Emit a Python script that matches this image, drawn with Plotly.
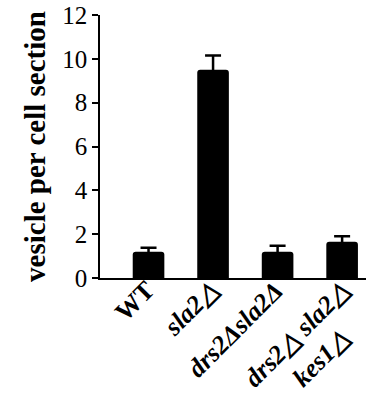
import plotly.graph_objects as go

# Strains and mean vesicle counts per cell section, with SEM
strains = ["WT", "sla2", "drs2 sla2", "drs2 sla2 kes1"]
strain_labels = [
    "<b>WT</b>",
    "<b><i>sla2△</i></b>",
    "<b><i>drs2Δsla2Δ</i></b>",
    "<b><i>drs2△ sla2△</i></b><br><b><i>kes1△</i></b>",
]
vesicles = [1.2, 9.5, 1.2, 1.65]
sem = [0.18, 0.65, 0.27, 0.26]
y_ticks = [0, 2, 4, 6, 8, 10, 12]

x_pos = list(range(len(strains)))

fig = go.Figure(
    go.Bar(
        x=x_pos,
        y=vesicles,
        width=0.49,
        marker=dict(color="black", line=dict(width=0)),
        error_y=dict(type="data", array=sem, visible=True,
                     color="black", thickness=2.5, width=8),
        hoverinfo="skip",
    )
)

serif = "Times New Roman, Liberation Serif, serif"
label_size = 26

# Slanted category labels under each bar, lines centred on each other
for xi, lab in zip(x_pos, strain_labels):
    n_lines = lab.count("<br>") + 1
    fig.add_annotation(
        x=xi, y=0, xref="x", yref="y",
        text=lab, showarrow=False,
        textangle=-45, align="center",
        xanchor="right", yanchor="top",
        xshift=-12 + 26 * n_lines,
        yshift=5,
        font=dict(family=serif, size=label_size, color="black"),
    )

fig.update_layout(
    width=366,
    height=406,
    margin=dict(l=100, r=0, t=15, b=128, autoexpand=False),
    paper_bgcolor="white",
    plot_bgcolor="white",
    showlegend=False,
    barcornerradius=3,
    font=dict(family=serif, color="black"),
    xaxis=dict(
        range=[-0.752, 3.37],
        tickvals=x_pos,
        showticklabels=False,
        automargin=False,
        showline=True,
        linecolor="black",
        linewidth=1.5,
        ticks="",
        showgrid=False,
        zeroline=False,
    ),
    yaxis=dict(
        range=[0, 12],
        tickvals=y_ticks,
        ticktext=[str(v) for v in y_ticks],
        ticks="outside",
        ticklen=6,
        tickwidth=1.5,
        tickcolor="black",
        automargin=False,
        tickfont=dict(family=serif, size=25, color="black"),
        showline=True,
        linecolor="black",
        linewidth=1.5,
        showgrid=False,
        zeroline=False,
        title=dict(
            text="<b>vesicle per cell section</b>",
            font=dict(family=serif, size=29, color="black"),
            standoff=8,
        ),
    ),
)

fig.write_html("out.html")
